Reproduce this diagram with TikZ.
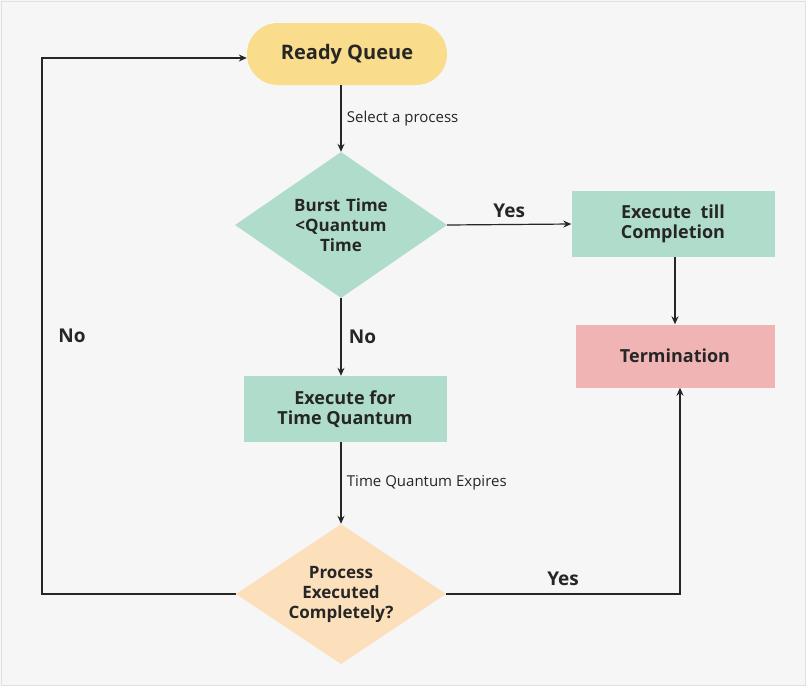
\documentclass[tikz,border=0pt]{standalone}
\usepackage{fontspec}
\setmainfont{Open Sans}
\usetikzlibrary{shapes.geometric,arrows.meta}
\definecolor{bg}{HTML}{F6F6F6}
\definecolor{yel}{HTML}{F9DC8C}
\definecolor{grn}{HTML}{B0DCCC}
\definecolor{pnk}{HTML}{F0B4B4}
\definecolor{pch}{HTML}{FCE0BC}
\tikzset{
 x=1pt,y=-1pt,
 box/.style={draw=none,minimum width=203pt,minimum height=66pt,align=center,font=\fontsize{18}{20}\selectfont\bfseries\color{black!85}},
 dia/.style={diamond,aspect=1.46,inner sep=0pt,minimum width=212pt,minimum height=146pt,text width=110pt,align=center,font=\fontsize{17}{20}\selectfont\bfseries\color{black!85}},
 arr/.style={draw=black!85,line width=1.2pt,-{Stealth[length=8pt,width=7pt]}},
 lbl/.style={font=\fontsize{15}{16}\selectfont\color{black!85}},
 big/.style={font=\fontsize{19}{20}\selectfont\bfseries\color{black!85}}
}
\begin{document}
\begin{tikzpicture}
\useasboundingbox (0,0) rectangle (806,686);
\fill[bg] (0,0) rectangle (806,686);
\draw[black!12] (1,1) rectangle (805,685);
\node[box,fill=yel,rounded corners=31pt,minimum width=200pt,minimum height=62pt,font=\fontsize{20}{22}\selectfont\bfseries\color{black!85}] (rq) at (347,54) {Ready Queue};
\node[dia,fill=grn] (d1) at (341,225) {Burst Time\\<Quantum\\Time};
\node[box,fill=grn] (etc) at (673,224) {Execute\ \ till\\Completion};
\node[box,fill=pnk,minimum width=199pt,minimum height=63pt] (term) at (675,356) {Termination};
\node[box,fill=grn] (eq) at (345,409) {Execute for\\Time Quantum};
\node[dia,fill=pch,minimum height=140pt,minimum width=210pt] (d2) at (341,594) {Process\\Executed\\Completely?};
\draw[arr] (rq.south -| 341,0) -- node[lbl,right,xshift=2pt]{Select a process} (d1.north);
\draw[arr] (d1.east) -- node[big,above,yshift=3pt]{Yes} (etc.west);
\draw[arr] (etc.south -| term.north) -- (term.north);
\draw[arr] (d1.south) -- node[big,right,xshift=4pt]{No} (d1.south |- eq.north);
\draw[arr] (d2.north |- eq.south) -- node[lbl,right,xshift=2pt]{Time Quantum Expires} (d2.north);
\coordinate (l1) at (42,594);
\coordinate (l2) at (42,58);
\draw[arr] (d2.west) -- (l1) -- (l2) -- (rq.west |- l2);
\node[big] (no) at (72,336) {No};
\coordinate (r1) at (680,594);
\draw[arr] (d2.east) -- node[big,above,yshift=4pt]{Yes} (r1) -- (r1 |- term.south);
\end{tikzpicture}
\end{document}
